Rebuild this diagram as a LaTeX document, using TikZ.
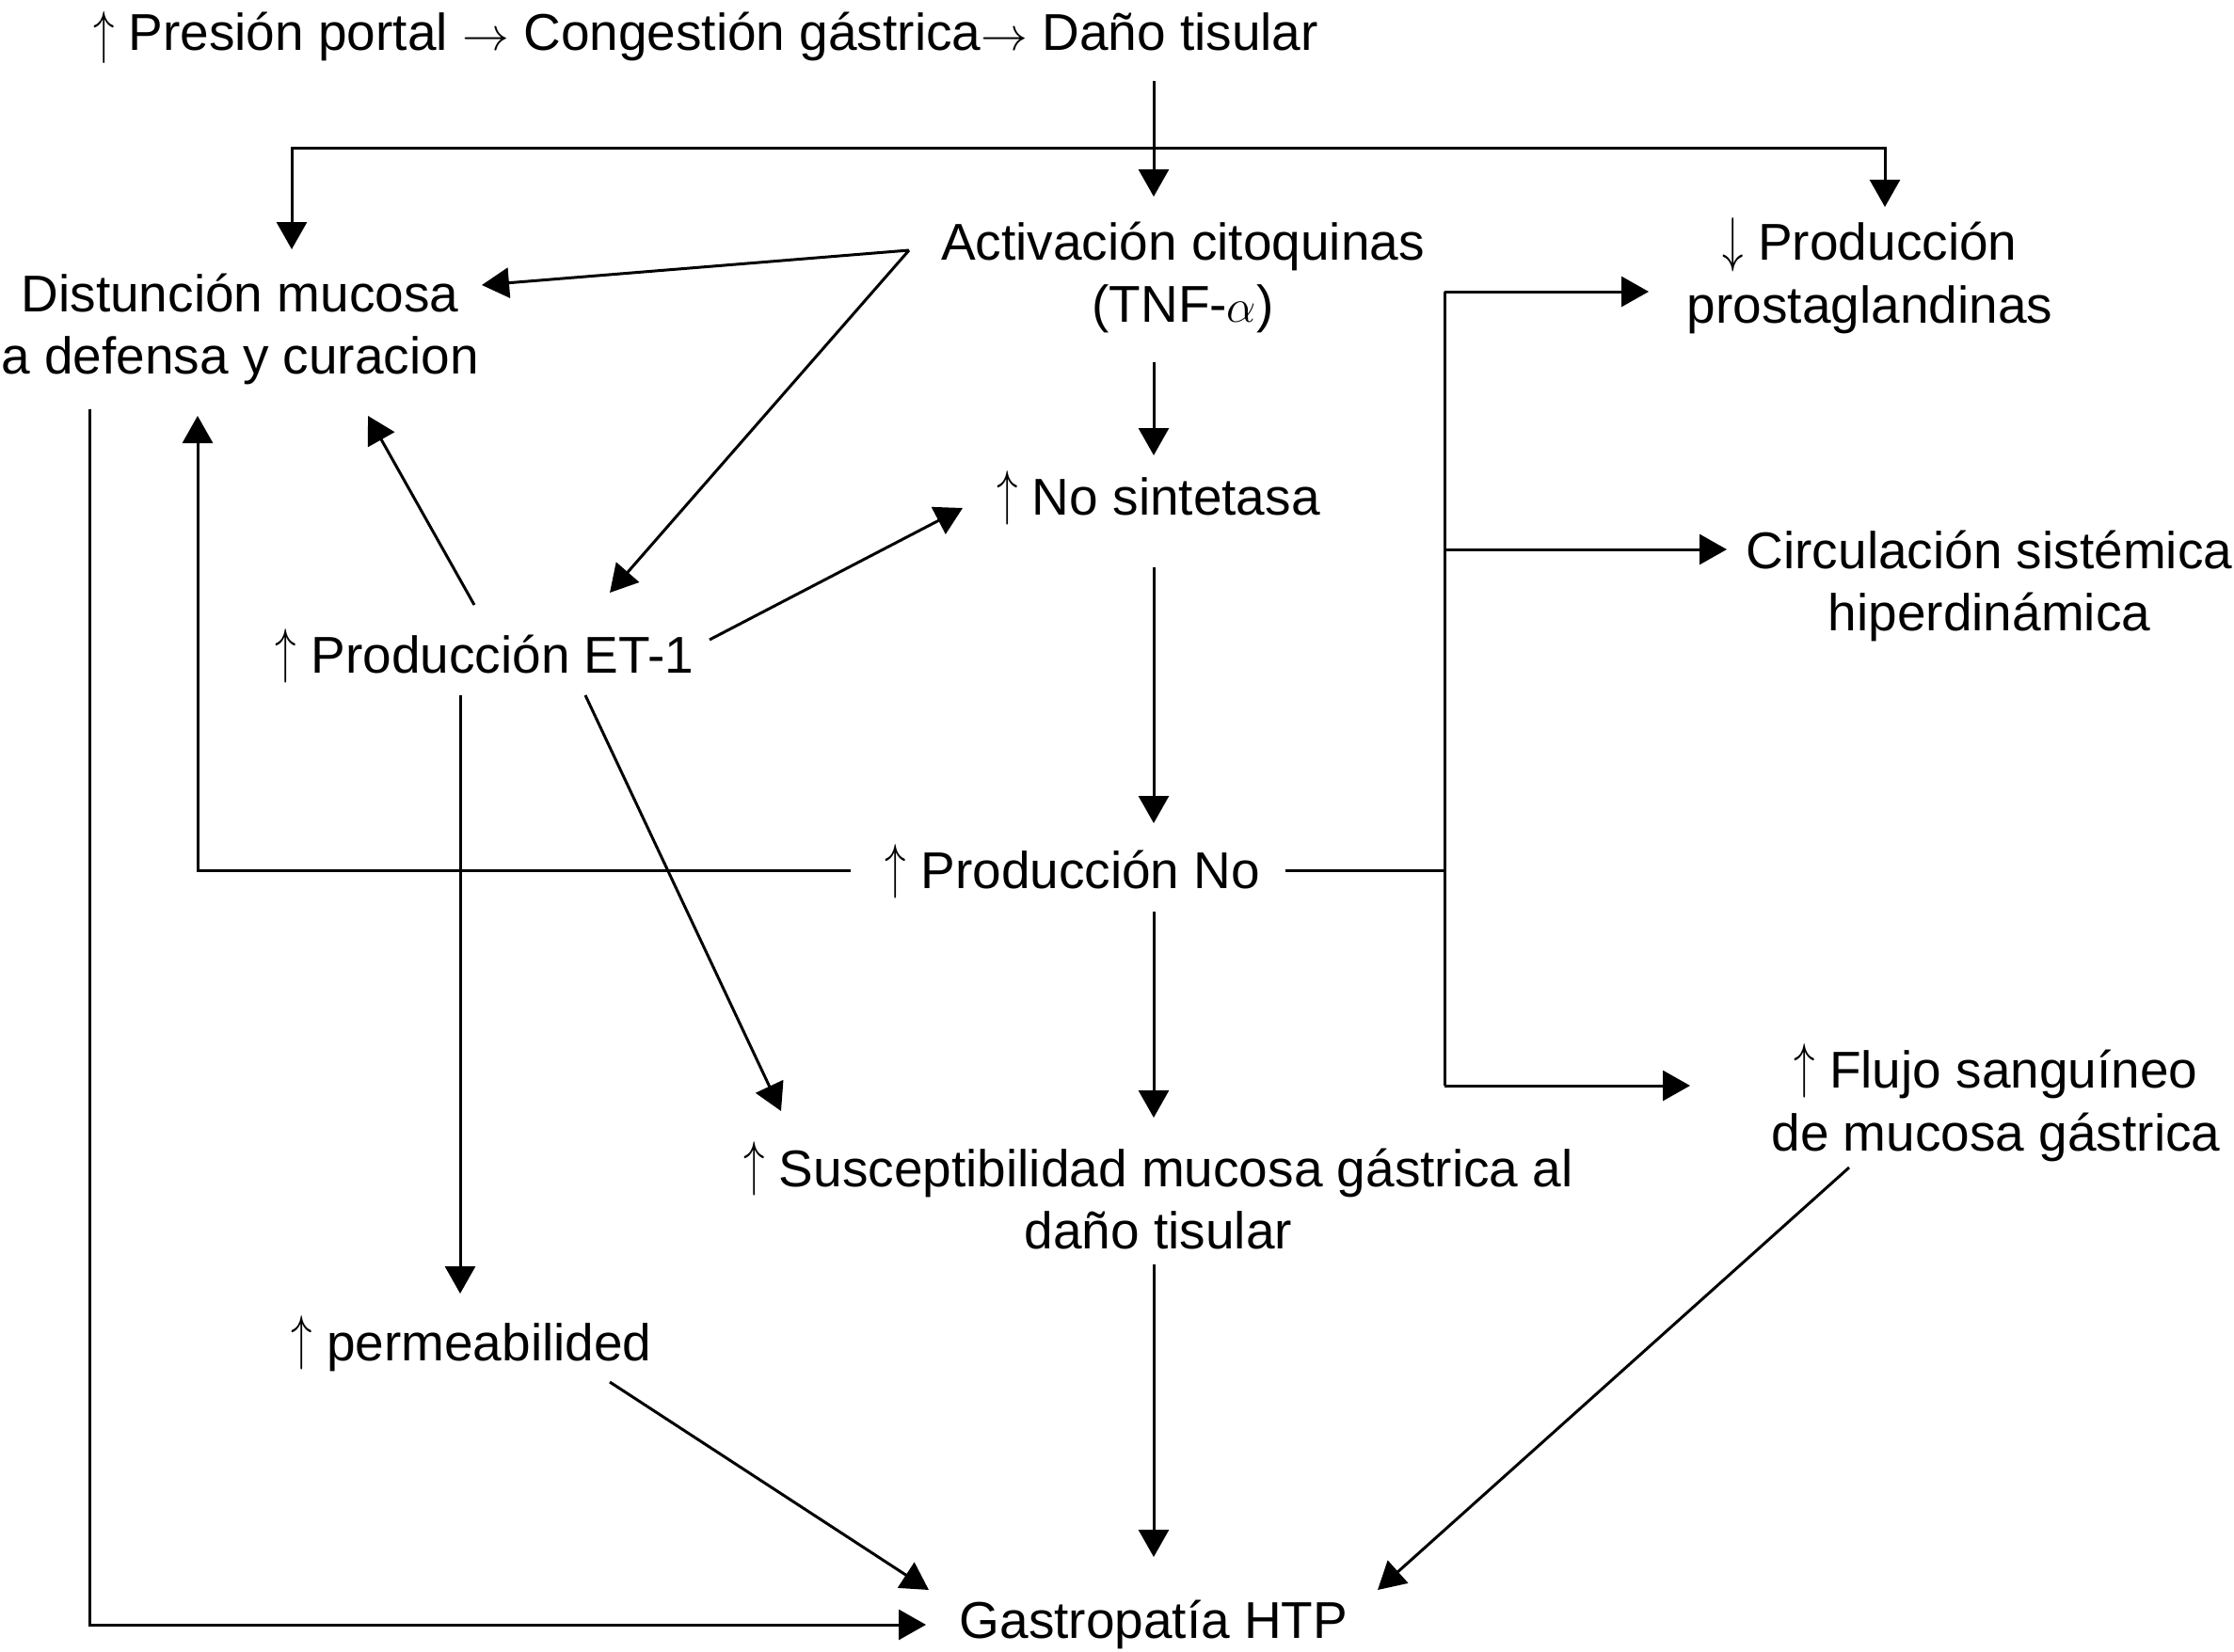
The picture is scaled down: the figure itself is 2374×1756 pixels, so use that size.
\documentclass[tikz,border=0pt]{standalone}
\usepackage{fontspec}
\setmainfont{Liberation Sans}
\usetikzlibrary{arrows.meta}
\newcommand{\myup}{\raisebox{0.05em}{\scalebox{0.9}[1.3]{$\uparrow$}}}
\newcommand{\mydown}{\raisebox{0.0em}{\scalebox{0.9}[1.3]{$\downarrow$}}}
\begin{document}
\begin{tikzpicture}[x=0.5pt,y=-0.5pt,
  txt/.style={font=\fontsize{27.5}{33.3}\selectfont, align=center, inner sep=0pt},
  ln/.style={line width=1.5pt, line join=miter},
  arr/.style={ln, -{Triangle[length=14.5pt,width=16pt]}}]
\useasboundingbox (0,0) rectangle (2374,1756);
% nodes
\node[txt] (top) at (750,40) {\raisebox{-0.04em}{\scalebox{0.9}[1.25]{$\uparrow$}}\ Presión portal $\rightarrow$ Congestión gástrica$\rightarrow$ Daño tisular};
\node[txt] (act) at (1257,295) {Activación citoquinas\\(TNF-$\alpha$)};
\node[txt] (dis) at (255,350) {Distunción mucosa\\a defensa y curacion};
\node[txt] (pg) at (1987,293) {\mydown\ Producción\\prostaglandinas};
\node[txt] (nos) at (1231,529) {\myup\ No sintetasa};
\node[txt] (circ) at (2114,623) {Circulación sistémica\\hiperdinámica};
\node[txt] (et) at (515,697) {\myup\ Producción ET-1};
\node[txt] (pno) at (1140,926) {\myup\ Producción No};
\node[txt] (flujo) at (2121,1172) {\myup\ Flujo sanguíneo\\de mucosa gástrica};
\node[txt] (sus) at (1231,1271) {\myup\ Susceptibilidad mucosa gástrica al\\daño tisular};
\node[txt] (perm) at (501,1428) {\myup\ permeabilided};
\node[txt] (gas) at (1226,1727) {Gastropatía HTP};
% endpoint coordinates
\coordinate (topS) at (1226,86);
\coordinate (split) at (1226,157);
\coordinate (actN) at (1226,209);
\coordinate (disN) at (310,265);
\coordinate (pgN) at (2003,220);
\coordinate (actW) at (966,266);
\coordinate (disE) at (512,303);
\coordinate (etNE) at (648,630);
\coordinate (actS) at (1226,385);
\coordinate (nosN) at (1226,484);
\coordinate (etNW) at (504,643);
\coordinate (disS) at (391,442);
\coordinate (etE) at (754,680);
\coordinate (nosW) at (1023,540);
\coordinate (nosS) at (1226,603);
\coordinate (pnoN) at (1226,875);
\coordinate (etS) at (489,739);
\coordinate (permN) at (489,1375);
\coordinate (etSE) at (622,739);
\coordinate (susNW) at (830,1181);
\coordinate (pnoW) at (904,925);
\coordinate (disSW) at (210,442);
\coordinate (pnoE) at (1366,925);
\coordinate (bus) at (1535,925);
\coordinate (busT) at (1535,310);
\coordinate (busM) at (1535,584);
\coordinate (busB) at (1535,1154);
\coordinate (pgW) at (1752,310);
\coordinate (circW) at (1835,584);
\coordinate (flujoW) at (1796,1154);
\coordinate (pnoS) at (1226,969);
\coordinate (susN) at (1226,1188);
\coordinate (susS) at (1226,1344);
\coordinate (gasN) at (1226,1655);
\coordinate (permSE) at (648,1469);
\coordinate (gasNW) at (987,1690);
\coordinate (flujoSW) at (1965,1241);
\coordinate (gasNE) at (1464,1690);
\coordinate (disL) at (95,435);
\coordinate (gasW) at (984,1727);
% connectors
\draw[arr] (topS) -- (actN);
\draw[arr] (split) -| (disN);
\draw[arr] (split) -| (pgN);
\draw[arr] (actW) -- (disE);
\draw[arr] (actW) -- (etNE);
\draw[arr] (actS) -- (nosN);
\draw[arr] (etNW) -- (disS);
\draw[arr] (etE) -- (nosW);
\draw[arr] (nosS) -- (pnoN);
\draw[arr] (etS) -- (permN);
\draw[arr] (etSE) -- (susNW);
\draw[arr] (pnoW) -| (disSW);
\draw[ln] (pnoE) -- (bus);
\draw[ln] (busT) -- (busB);
\draw[arr] (busT) -- (pgW);
\draw[arr] (busM) -- (circW);
\draw[arr] (busB) -- (flujoW);
\draw[arr] (pnoS) -- (susN);
\draw[arr] (susS) -- (gasN);
\draw[arr] (permSE) -- (gasNW);
\draw[arr] (flujoSW) -- (gasNE);
\draw[arr] (disL) |- (gasW);
\end{tikzpicture}
\end{document}
